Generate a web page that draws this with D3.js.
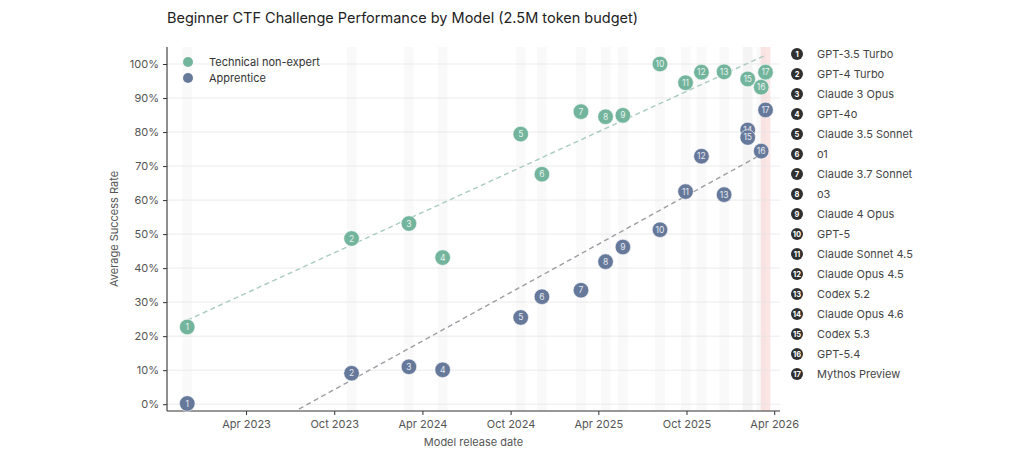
<!DOCTYPE html>
<html><head><meta charset="utf-8">
<script src="https://cdn.jsdelivr.net/npm/d3@7"></script>
<style>
html,body{margin:0;padding:0;background:#fff;}
svg{display:block;font-family:Inter,"Noto Sans",sans-serif;}
</style></head>
<body><svg id="chart" width="1024" height="461"></svg>
<script>
const models = ["GPT-3.5 Turbo","GPT-4 Turbo","Claude 3 Opus","GPT-4o","Claude 3.5 Sonnet","o1","Claude 3.7 Sonnet","o3","Claude 4 Opus","GPT-5","Claude Sonnet 4.5","Claude Opus 4.5","Codex 5.2","Claude Opus 4.6","Codex 5.3","GPT-5.4","Mythos Preview"];
const releaseDates = ["2022-11-30","2023-11-06","2024-03-04","2024-05-13","2024-10-22","2024-12-05","2025-02-24","2025-04-16","2025-05-22","2025-08-07","2025-09-29","2025-11-01","2025-12-18","2026-02-05","2026-02-05","2026-03-05","2026-03-14"];
const technicalNonExpert = [22.7,48.7,53.1,43.1,79.4,67.6,86.0,84.5,84.9,100,94.5,97.6,97.7,95.6,95.6,93.2,97.6];
const apprentice = [0.2,9.1,11.0,10.1,25.5,31.6,33.5,41.9,46.2,51.3,62.5,72.9,61.6,80.6,78.4,74.4,86.5];
const trendTechDates = ["2022-11-30","2026-03-14"];
const trendTechValues = [24.7,102.6];
const trendAppDates = ["2022-11-30","2026-03-14"];
const trendAppValues = [-19.5,74.1];
const yTicks = [0,10,20,30,40,50,60,70,80,90,100];
const xTicks = ["2023-04-01","2023-10-01","2024-04-01","2024-10-01","2025-04-01","2025-10-01","2026-04-01"];
const seriesNames = ["Technical non-expert","Apprentice"];
const highlightModel = "Mythos Preview";

const parse = d3.utcParse("%Y-%m-%d");
const svg = d3.select("#chart");
const L = 167, R = 780, T = 47, B = 411;
const x = d3.scaleUtc().domain([parse("2022-10-19"), parse("2026-04-13")]).range([L, R]);
const y = d3.scaleLinear().domain([-2, 105]).range([B, T]);
const colTech = "#73b49c", colApp = "#67799b";

svg.append("text").attr("x", L).attr("y", 23).attr("font-size", 14.5).attr("fill", "#222")
  .text("Beginner CTF Challenge Performance by Model (2.5M token budget)");

svg.append("defs").append("clipPath").attr("id","plotclip").append("rect")
  .attr("x", L).attr("y", T).attr("width", R-L).attr("height", B-T);

const bandDays = 10;
const bands = svg.append("g");
models.forEach((m,i)=>{
  const d = parse(releaseDates[i]);
  const x0 = x(d3.utcDay.offset(d,-bandDays)), x1 = x(d3.utcDay.offset(d,bandDays));
  bands.append("rect").attr("x", x0).attr("y", T).attr("width", x1-x0).attr("height", B-T)
    .attr("fill", m===highlightModel ? "#f6c6c6" : "#e9e9e9")
    .attr("opacity", m===highlightModel ? 0.45 : 0.28);
});

svg.append("g").selectAll("line").data(yTicks).join("line")
  .attr("x1", L).attr("x2", R).attr("y1", d=>y(d)).attr("y2", d=>y(d))
  .attr("stroke", "#e6e6e6").attr("stroke-width", 0.8);

const yAxis = svg.append("g").attr("transform", `translate(${L},0)`)
  .call(d3.axisLeft(y).tickValues(yTicks).tickFormat(d=>d+"%").tickSize(4).tickPadding(4));
const xAxis = svg.append("g").attr("transform", `translate(0,${B})`)
  .call(d3.axisBottom(x).tickValues(xTicks.map(parse)).tickFormat(d3.utcFormat("%b %Y")).tickSize(4).tickPadding(5));
[yAxis,xAxis].forEach(g=>{
  g.select(".domain").attr("stroke","#333").attr("stroke-width",1.1);
  g.selectAll(".tick line").attr("stroke","#333");
  g.selectAll(".tick text").attr("fill","#555").attr("font-size",11).attr("font-family","Inter,'Noto Sans',sans-serif");
});
yAxis.select(".domain").attr("d", `M-0,${T}V${B}`);
xAxis.select(".domain").attr("d", `M${L},0H${R}`);

svg.append("text").attr("transform", `translate(118,${(T+B)/2}) rotate(-90)`).attr("text-anchor","middle")
  .attr("font-size", 11).attr("fill","#555").text("Average Success Rate");
svg.append("text").attr("x", (L+R)/2).attr("y", 446).attr("text-anchor","middle")
  .attr("font-size", 11).attr("fill","#555").text("Model release date");

const line = d3.line().x(d=>x(d[0])).y(d=>y(d[1]));
const tg = svg.append("g").attr("clip-path","url(#plotclip)");
tg.append("path").attr("d", line(trendTechDates.map((d,i)=>[parse(d),trendTechValues[i]])))
  .attr("fill","none").attr("stroke","#a9cbbf").attr("stroke-width",1.4).attr("stroke-dasharray","5,3.5");
tg.append("path").attr("d", line(trendAppDates.map((d,i)=>[parse(d),trendAppValues[i]])))
  .attr("fill","none").attr("stroke","#9b9ea3").attr("stroke-width",1.4).attr("stroke-dasharray","5,3.5");

function drawSeries(vals, color){
  const g = svg.append("g");
  vals.forEach((v,i)=>{
    const cx = x(parse(releaseDates[i])), cy = y(v);
    g.append("circle").attr("cx",cx).attr("cy",cy).attr("r",7.8)
      .attr("fill",color).attr("stroke","#fff").attr("stroke-width",0.6);
    g.append("text").attr("x",cx).attr("y",cy+3).attr("text-anchor","middle")
      .attr("font-size",8.5).attr("fill","#fff").attr("fill-opacity",0.85).text(i+1);
  });
}
drawSeries(apprentice, colApp);
drawSeries(technicalNonExpert, colTech);

const lg = svg.append("g");
[colTech, colApp].forEach((c,i)=>{
  lg.append("circle").attr("cx",188).attr("cy",62+16*i).attr("r",5).attr("fill",c);
  lg.append("text").attr("x",209).attr("y",66+16*i).attr("font-size",11).attr("fill","#333").text(seriesNames[i]);
});

const rl = svg.append("g");
models.forEach((m,i)=>{
  const cy = 54 + 20*i;
  rl.append("circle").attr("cx",797).attr("cy",cy).attr("r",6).attr("fill","#2f2f2f");
  rl.append("text").attr("x",797).attr("y",cy+2.8).attr("text-anchor","middle").attr("font-size",7.5)
    .attr("font-weight","bold").attr("fill","#fff").text(i+1);
  rl.append("text").attr("x",817).attr("y",cy+4).attr("font-size",11).attr("fill","#444").text(m);
});
</script></body></html>
